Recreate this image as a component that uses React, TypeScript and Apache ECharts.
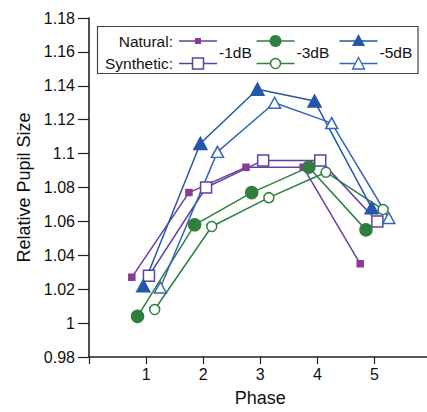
import React, { useEffect, useRef } from "react";
import * as echarts from "echarts";

const phases = [1, 2, 3, 4, 5];
const natural1dB = [1.027, 1.077, 1.092, 1.092, 1.035];
const synthetic1dB = [1.028, 1.080, 1.096, 1.096, 1.060];
const natural3dB = [1.004, 1.058, 1.077, 1.092, 1.055];
const synthetic3dB = [1.008, 1.057, 1.074, 1.089, 1.067];
const natural5dB = [1.022, 1.106, 1.138, 1.131, 1.068];
const synthetic5dB = [1.021, 1.101, 1.130, 1.118, 1.062];
const legendLevels = ["-1dB", "-3dB", "-5dB"];

const PURPLE_N = "#8B3A98";
const PURPLE_L = "#6A3EA2";
const PURPLE_S = "#5E3FA6";
const GREEN = "#2F7F3E";
const BLUE = "#2456AA";
const BLUE_S = "#3466BC";
const FONT = "Liberation Sans, Arial, Helvetica, sans-serif";

function pts(vals: number[], off: number) {
  return vals.map((v, i) => [phases[i] + off, v]);
}

export default function App() {
  const ref = useRef<HTMLDivElement>(null);
  useEffect(() => {
    if (!ref.current) return;
    const chart = echarts.init(ref.current, undefined, { renderer: "svg" });
    const mk = (
      name: string,
      vals: number[],
      off: number,
      symbol: string,
      size: any,
      lineColor: string,
      fill: string,
      border: string
    ) => ({
      name,
      type: "line",
      data: pts(vals, off),
      symbol,
      symbolSize: size,
      showSymbol: true,
      lineStyle: { color: lineColor, width: 1.5 },
      itemStyle: { color: fill, borderColor: border, borderWidth: 1.5, opacity: 1 },
      emphasis: { disabled: true },
    });
    const lx = [198, 275.5, 358.5];
    const legendGraphic: any[] = [
      {
        type: "rect",
        shape: { x: 97.5, y: 26.5, width: 320.5, height: 47 },
        style: { fill: "#fff", stroke: "#444", lineWidth: 1.2 },
        z: 100,
      },
      {
        type: "text",
        x: 173,
        y: 41,
        style: { text: "Natural:", fill: "#111", font: `15.5px ${FONT}`, textAlign: "right", textVerticalAlign: "middle" },
        z: 101,
      },
      {
        type: "text",
        x: 173,
        y: 63.5,
        style: { text: "Synthetic:", fill: "#111", font: `15.5px ${FONT}`, textAlign: "right", textVerticalAlign: "middle" },
        z: 101,
      },
    ];
    const lineCols = [[PURPLE_L, PURPLE_S], [GREEN, GREEN], [BLUE, BLUE_S]];
    lx.forEach((cx, k) => {
      [41, 63.5].forEach((yy, r) => {
        legendGraphic.push({
          type: "line",
          shape: { x1: cx - 19, y1: yy, x2: cx + 19, y2: yy },
          style: { stroke: lineCols[k][r], lineWidth: 1.5 },
          z: 101,
        });
      });
      legendGraphic.push({
        type: "text",
        x: cx + 21,
        y: 52.5,
        style: { text: legendLevels[k], fill: "#111", font: `15.5px ${FONT}`, textAlign: "left", textVerticalAlign: "middle" },
        z: 101,
      });
    });
    legendGraphic.push(
      { type: "rect", shape: { x: 195, y: 38, width: 6, height: 6 }, style: { fill: PURPLE_N }, z: 102 },
      { type: "rect", shape: { x: 192.5, y: 58, width: 11, height: 11 }, style: { fill: "#fff", stroke: PURPLE_S, lineWidth: 1.5 }, z: 102 },
      { type: "circle", shape: { cx: 275.5, cy: 41, r: 6 }, style: { fill: GREEN }, z: 102 },
      { type: "circle", shape: { cx: 275.5, cy: 63.5, r: 5 }, style: { fill: "#fff", stroke: GREEN, lineWidth: 1.5 }, z: 102 },
      { type: "polygon", shape: { points: [[358.5, 34], [365, 46], [352, 46]] }, style: { fill: BLUE }, z: 102 },
      { type: "polygon", shape: { points: [[358.5, 57.5], [364.5, 69], [352.5, 69]] }, style: { fill: "#fff", stroke: BLUE_S, lineWidth: 1.3 }, z: 102 }
    );

    chart.setOption({
      animation: false,
      grid: { left: 89, top: 18, bottom: 52, right: 18.4, containLabel: false },
      xAxis: {
        type: "value",
        min: 0,
        max: 6,
        interval: 1,
        name: "Phase",
        nameLocation: "middle",
        nameGap: 32,
        nameTextStyle: { fontSize: 18, color: "#111", fontFamily: FONT },
        axisLine: { show: true, onZero: false, lineStyle: { color: "#222", width: 1.6 } },
        axisTick: { show: true, length: 7, lineStyle: { color: "#222", width: 1.2 } },
        axisLabel: {
          fontSize: 16,
          color: "#111",
          fontFamily: FONT,
          margin: 9,
          formatter: (v: number) => (v >= 1 && v <= 5 ? String(v) : ""),
        },
        splitLine: { show: false },
      },
      yAxis: {
        type: "value",
        min: 0.98,
        max: 1.18,
        interval: 0.02,
        name: "Relative Pupil Size",
        nameLocation: "middle",
        nameGap: 54,
        nameTextStyle: { fontSize: 18, color: "#111", fontFamily: FONT },
        axisLine: { show: true, onZero: false, lineStyle: { color: "#222", width: 1.6 } },
        axisTick: { show: true, length: 11, lineStyle: { color: "#222", width: 1.2 } },
        axisLabel: {
          fontSize: 16,
          color: "#111",
          fontFamily: FONT,
          margin: 14,
          formatter: (v: number) => String(+v.toFixed(2)),
        },
        splitLine: { show: false },
      },
      graphic: legendGraphic,
      series: [
        mk("Natural -1dB", natural1dB, -0.25, "rect", 6, PURPLE_L, PURPLE_N, PURPLE_N),
        mk("Synthetic -1dB", synthetic1dB, 0.05, "rect", 11, PURPLE_S, "#fff", PURPLE_S),
        mk("Natural -3dB", natural3dB, -0.15, "circle", 12, GREEN, GREEN, GREEN),
        mk("Synthetic -3dB", synthetic3dB, 0.15, "circle", 10, GREEN, "#fff", GREEN),
        mk("Natural -5dB", natural5dB, -0.05, "triangle", [13, 12], BLUE, BLUE, BLUE),
        mk("Synthetic -5dB", synthetic5dB, 0.25, "triangle", [12, 11], BLUE_S, "#fff", BLUE_S),
      ],
    });
    return () => chart.dispose();
  }, []);
  return (
    <div style={{ position: "absolute", left: 0, top: 0, width: 427, height: 412, overflow: "hidden", background: "#fff" }}>
      <div ref={ref} style={{ width: 450, height: 412 }} />
    </div>
  );
}
